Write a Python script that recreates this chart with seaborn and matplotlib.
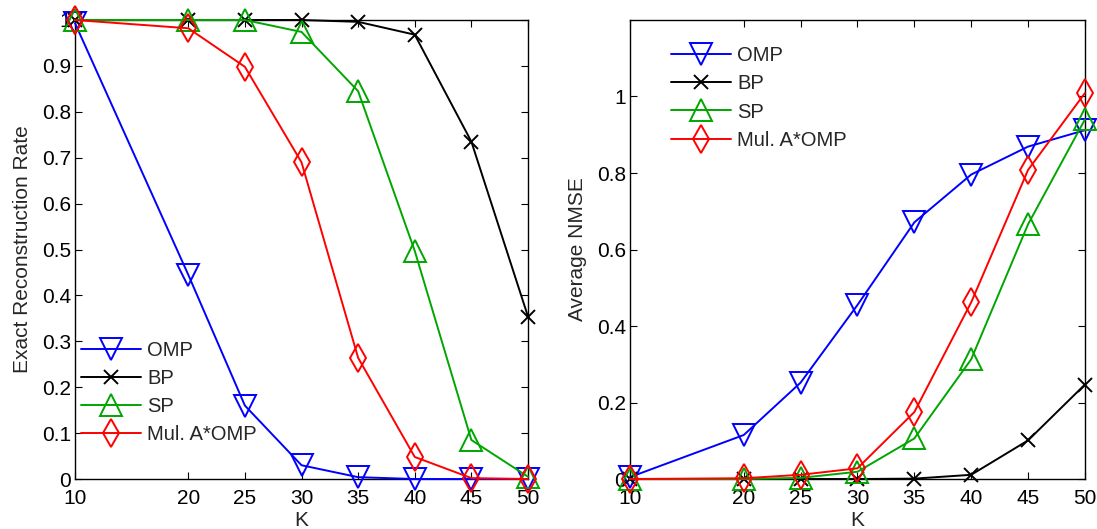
import numpy as np
import pandas as pd
import matplotlib
matplotlib.use('Agg')
import matplotlib.pyplot as plt
import seaborn as sns

# data
K = [10, 20, 25, 30, 35, 40, 45, 50]
methods = ['OMP', 'BP', 'SP', 'Mul. A*OMP']

rate_omp = [0.993, 0.445, 0.16, 0.03, 0.004, 0.0, 0.0, 0.0]
rate_bp = [1.0, 1.0, 1.0, 1.0, 0.996, 0.968, 0.735, 0.354]
rate_sp = [1.0, 1.0, 1.0, 0.974, 0.845, 0.497, 0.085, 0.005]
rate_mul = [1.0, 0.982, 0.898, 0.69, 0.264, 0.048, 0.002, 0.0]

nmse_omp = [0.005, 0.115, 0.252, 0.455, 0.671, 0.796, 0.869, 0.912]
nmse_bp = [0.0, 0.0, 0.0, 0.0, 0.001, 0.011, 0.101, 0.247]
nmse_sp = [0.0, 0.0, 0.003, 0.019, 0.106, 0.313, 0.666, 0.94]
nmse_mul = [0.0, 0.002, 0.011, 0.028, 0.175, 0.462, 0.808, 1.009]

rate_ticks = [0, 0.1, 0.2, 0.3, 0.4, 0.5, 0.6, 0.7, 0.8, 0.9, 1]
nmse_ticks = [0, 0.2, 0.4, 0.6, 0.8, 1]

sns.set_style('ticks', {'xtick.direction': 'in', 'ytick.direction': 'in',
                        'axes.edgecolor': 'black'})
plt.rcParams['font.family'] = ['Liberation Sans', 'DejaVu Sans']
plt.rcParams['axes.linewidth'] = 1.0

colors = ['#0000ff', '#000000', '#00a600', '#ff0000']
markers = ['v', 'x', '^', 'd']
msizes = [16, 10, 16, 14]


def draw(ax, series, yticks, ylim, ylabel):
    for name, vals, c, m, ms in zip(methods, series, colors, markers, msizes):
        sns.lineplot(x=K, y=vals, ax=ax, color=c, marker=m, markersize=ms,
                     markerfacecolor='none', markeredgecolor=c, markeredgewidth=1.4,
                     linewidth=1.4, label=name, clip_on=False, zorder=3)
    ax.set_xlim(10, 50)
    ax.set_ylim(*ylim)
    ax.set_xticks(K)
    ax.set_yticks(yticks)
    ax.set_yticklabels([f'{t:g}' for t in yticks])
    ax.tick_params(which='both', top=True, right=True, length=5, width=0.8,
                   labelsize=15, colors='black')
    ax.tick_params(axis='x', pad=7)
    ax.tick_params(axis='y', pad=3)
    for s in ax.spines.values():
        s.set_visible(True)
    ax.set_xlabel('K', fontsize=15, labelpad=2)
    ax.set_ylabel(ylabel, fontsize=15, labelpad=7)


fig = plt.figure(figsize=(10.97, 5.29), dpi=100)
ax1 = fig.add_axes([0.0684, 0.0945, 0.4129, 0.8677])
ax2 = fig.add_axes([0.5743, 0.0945, 0.4147, 0.8677])

draw(ax1, [rate_omp, rate_bp, rate_sp, rate_mul], rate_ticks, (0, 1), 'Exact Reconstruction Rate')
draw(ax2, [nmse_omp, nmse_bp, nmse_sp, nmse_mul], nmse_ticks, (0, 1.2), 'Average NMSE')

leg_kw = dict(frameon=False, fontsize=14.5, handlelength=3.0, handletextpad=0.3,
              labelspacing=0.45, borderaxespad=0.0)
ax1.legend(loc='lower left', bbox_to_anchor=(-0.005, 0.058), **leg_kw)
ax2.legend(loc='upper left', bbox_to_anchor=(0.072, 0.96), **leg_kw)

fig.savefig('out.png', dpi=100)
